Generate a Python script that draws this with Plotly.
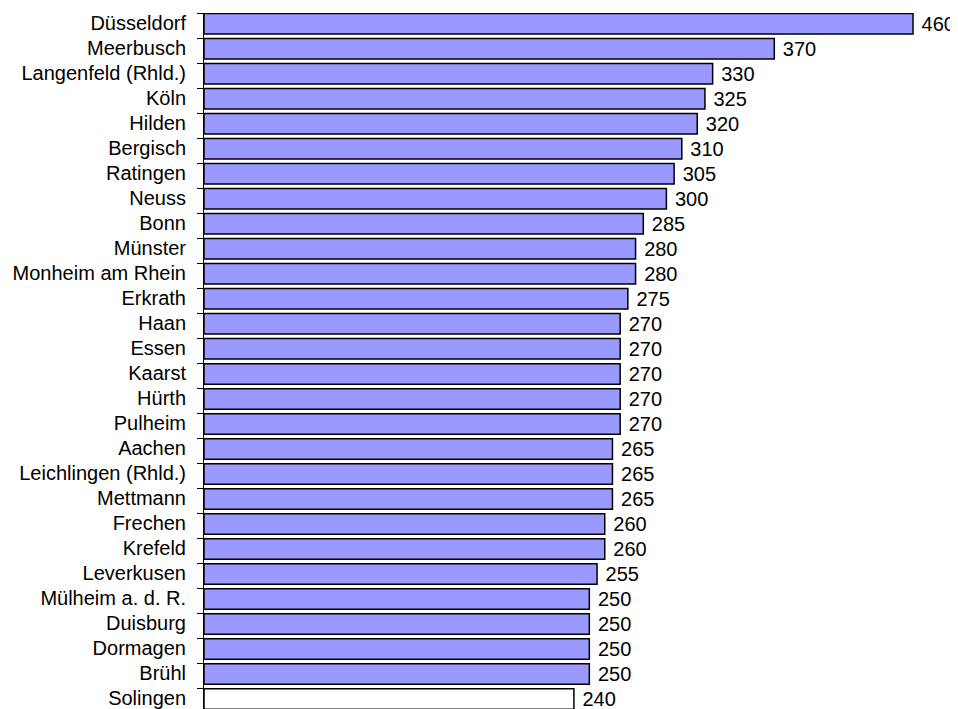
"""
Balkendiagramm: Werte je Stadt
"""
import plotly.graph_objects as go

# Daten (von oben nach unten)
staedte = [
    "Düsseldorf", "Meerbusch", "Langenfeld (Rhld.)", "Köln", "Hilden",
    "Bergisch", "Ratingen", "Neuss", "Bonn", "Münster", "Monheim am Rhein",
    "Erkrath", "Haan", "Essen", "Kaarst", "Hürth", "Pulheim", "Aachen",
    "Leichlingen (Rhld.)", "Mettmann", "Frechen", "Krefeld", "Leverkusen",
    "Mülheim a. d. R.", "Duisburg", "Dormagen", "Brühl", "Solingen",
]
werte = [
    460, 370, 330, 325, 320, 310, 305, 300, 285, 280, 280, 275, 270, 270,
    270, 270, 270, 265, 265, 265, 260, 260, 255, 250, 250, 250, 250, 240,
]
hervorgehoben = "Solingen"

# Solingen weiß, alle anderen lila
farben = ["#ffffff" if s == hervorgehoben else "#9999ff" for s in staedte]

fig = go.Figure(go.Bar(
    x=werte,
    y=staedte,
    orientation="h",
    marker=dict(color=farben, line=dict(color="#000000", width=1.5)),
    width=0.82,
    offset=-0.48,
    text=werte,
    texttemplate=" %{x}",
    textposition="outside",
    constraintext="none",
    cliponaxis=False,
    textfont=dict(family="Liberation Sans, Arial", size=20, color="#000000"),
    hoverinfo="x+y",
))

fig.update_xaxes(visible=False, range=[0, 484], showgrid=False,
                 zeroline=False, automargin=False)
fig.update_yaxes(
    range=[27.33, -0.5],
    automargin=False,
    showline=True, linecolor="#000000", linewidth=1,
    ticks="outside", tickson="boundaries", ticklen=6, tickcolor="#000000",
    ticklabelstandoff=13,
    ticklabelshift=3,
    showgrid=False,
    tickfont=dict(family="Liberation Sans, Arial", size=20, color="#000000"),
)
# die Seite hat 8px Rand -> Figur etwas kleiner
fig.update_layout(
    width=950, height=701,
    margin=dict(t=5, b=0, l=196, r=8, autoexpand=False),
    plot_bgcolor="#ffffff", paper_bgcolor="#ffffff",
    showlegend=False,
)
fig.write_html("out.html")
